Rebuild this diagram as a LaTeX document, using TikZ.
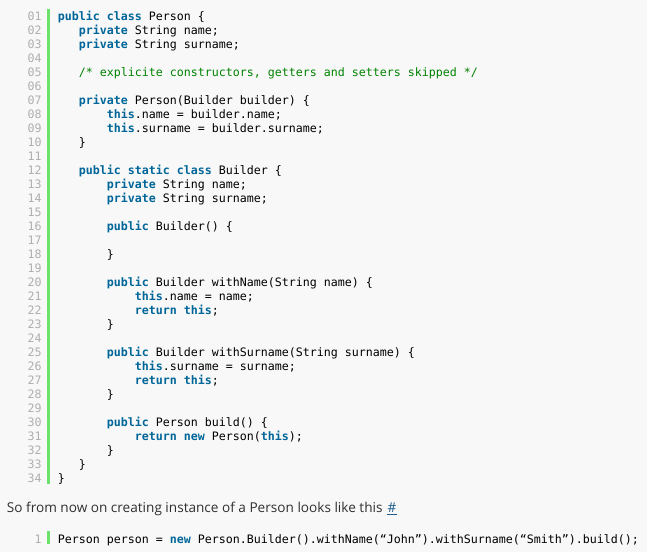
\documentclass[tikz,border=0pt]{standalone}
\usepackage{fontspec}
\setmonofont{DejaVu Sans Mono}
\newfontfamily\prosefont{Open Sans}
\definecolor{bgc}{HTML}{F8F8F8}
\definecolor{kwc}{HTML}{006699}
\definecolor{cmc}{HTML}{008200}
\definecolor{lnc}{HTML}{AFAFAF}
\definecolor{barc}{HTML}{6CE26C}
\definecolor{linkc}{HTML}{1B5A8A}
\definecolor{prosec}{HTML}{303030}
\newcommand\kw[1]{\textcolor{kwc}{\bfseries #1}}
\newcommand\cm[1]{\textcolor{cmc}{#1}}
\tikzset{
  codeline/.style={anchor=base west, inner sep=0pt, font=\ttfamily\fontsize{8.72}{10}\selectfont, text=black},
  lnum/.style={anchor=base east, inner sep=0pt, font=\ttfamily\fontsize{8.72}{10}\selectfont, text=lnc},
  gbar/.style={fill=barc, draw=none},
  prose/.style={anchor=base west, inner sep=0pt, font=\prosefont\fontsize{10.2}{12}\selectfont, text=prosec}
}
\begin{document}
\begin{tikzpicture}[x=0.75pt,y=-0.75pt]
\fill[bgc] (0,0) rectangle (647,552);
\useasboundingbox (0,0) rectangle (647,552);
\fill[gbar] (47,9) rectangle (50,484);
% line numbers
\foreach \i in {1,...,34}{
  \pgfmathsetmacro{\by}{20.5+(\i-1)*14}
  \node[lnum] (ln\i) at (42,\by) {\ifnum\i<10 0\fi\i};
}
\def\cx{57.7}
\def\ch{7}
\newcommand\cl[3]{\node[codeline] (c#1) at ({\cx+#2*\ch},{20.5+(#1-1)*14}) {#3};}
\cl{1}{0}{\kw{public} \kw{class} Person \{}
\cl{2}{3}{\kw{private} String name;}
\cl{3}{3}{\kw{private} String surname;}
\cl{5}{3}{\cm{/* explicite constructors, getters and setters skipped */}}
\cl{7}{3}{\kw{private} Person(Builder builder) \{}
\cl{8}{7}{\kw{this}.name = builder.name;}
\cl{9}{7}{\kw{this}.surname = builder.surname;}
\cl{10}{3}{\}}
\cl{12}{3}{\kw{public} \kw{static} \kw{class} Builder \{}
\cl{13}{7}{\kw{private} String name;}
\cl{14}{7}{\kw{private} String surname;}
\cl{16}{7}{\kw{public} Builder() \{}
\cl{18}{7}{\}}
\cl{20}{7}{\kw{public} Builder withName(String name) \{}
\cl{21}{11}{\kw{this}.name = name;}
\cl{22}{11}{\kw{return} \kw{this};}
\cl{23}{7}{\}}
\cl{25}{7}{\kw{public} Builder withSurname(String surname) \{}
\cl{26}{11}{\kw{this}.surname = surname;}
\cl{27}{11}{\kw{return} \kw{this};}
\cl{28}{7}{\}}
\cl{30}{7}{\kw{public} Person build() \{}
\cl{31}{11}{\kw{return} \kw{new} Person(\kw{this});}
\cl{32}{7}{\}}
\cl{33}{3}{\}}
\cl{34}{0}{\}}
% prose
\node[prose] (prose) at (6.7,512.3) {So from now on creating instance of a Person looks like this};
\node[prose, text=linkc, anchor=base west] (link) at ([xshift=3.5pt]prose.base east) {\#};
\draw[linkc, line width=0.75pt] ([yshift=-1.5pt]link.base west) -- ([yshift=-1.5pt]link.base east);
% second block
\fill[gbar] (47,531) rectangle (50,544.3);
\node[lnum] (bln) at (42,543) {1};
\node[codeline] (bcode) at (\cx,543) {Person person = \kw{new} Person.Builder().withName(“John”).withSurname(“Smith”).build();};
\end{tikzpicture}
\end{document}
